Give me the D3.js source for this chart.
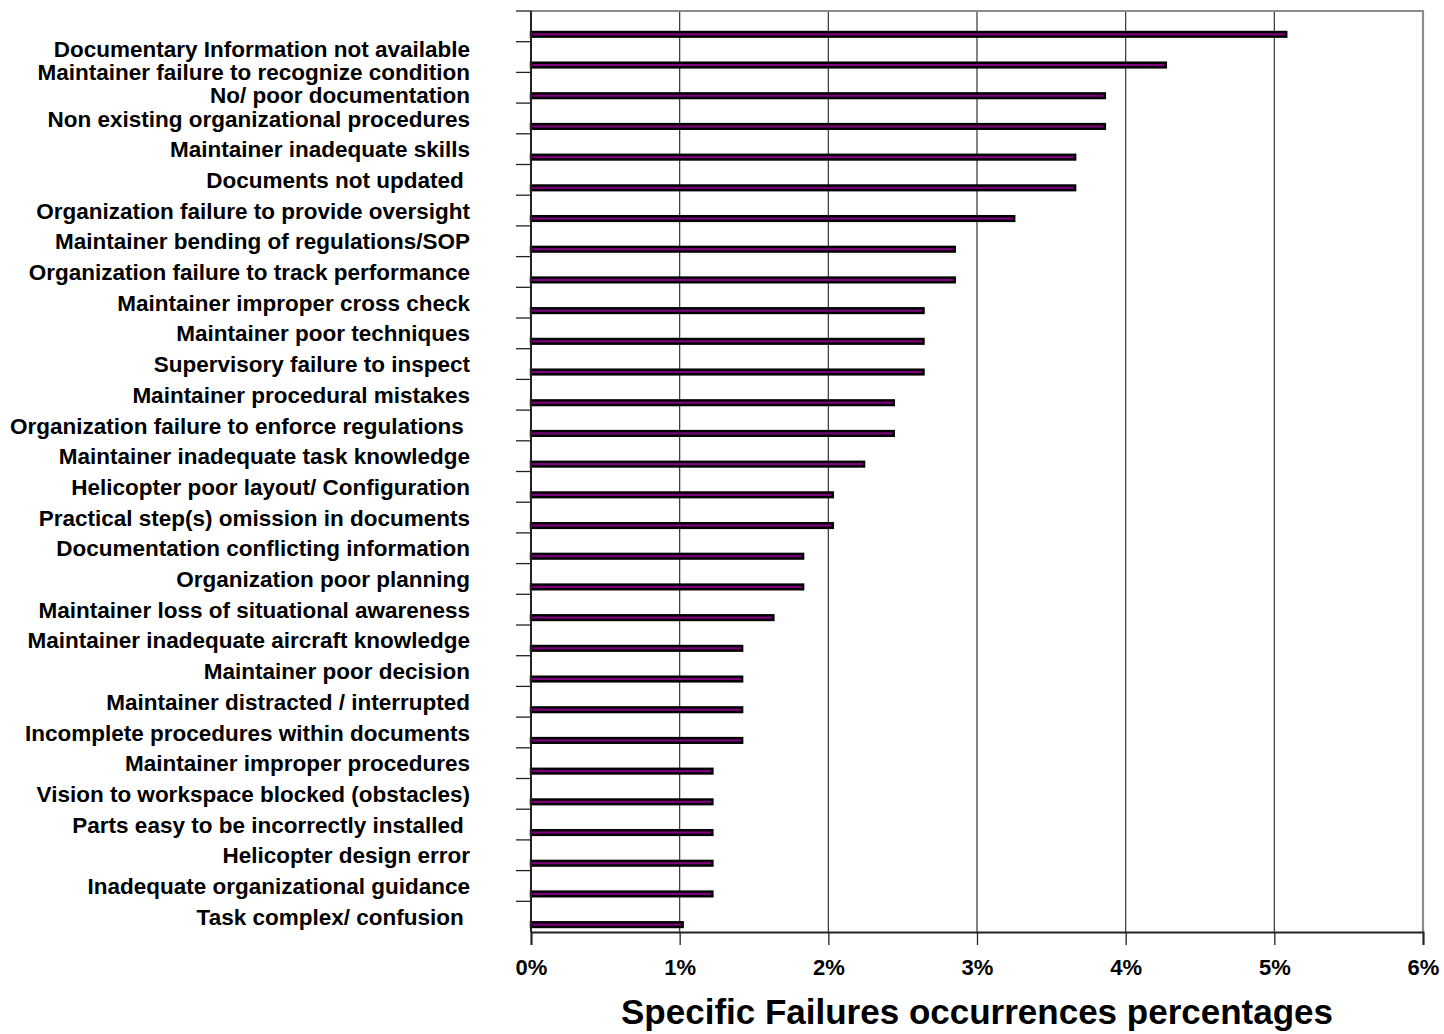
<!DOCTYPE html>
<html>
<head>
<meta charset="utf-8">
<script src="https://cdn.jsdelivr.net/npm/d3@7"></script>
<style>
  html, body { margin: 0; padding: 0; background: #fff; }
  svg { display: block; font-family: Arial, "Liberation Sans", sans-serif; }
  .cat { white-space: pre; }
</style>
</head>
<body>
<svg id="chart" width="1444" height="1034"></svg>
<script>
// Failure categories, top to bottom
const categories = [
  "Documentary Information not available",
  "Maintainer failure to recognize condition",
  "No/ poor documentation",
  "Non existing organizational procedures",
  "Maintainer inadequate skills",
  "Documents not updated ",
  "Organization failure to provide oversight",
  "Maintainer bending of regulations/SOP",
  "Organization failure to track performance",
  "Maintainer improper cross check",
  "Maintainer poor techniques",
  "Supervisory failure to inspect",
  "Maintainer procedural mistakes",
  "Organization failure to enforce regulations ",
  "Maintainer inadequate task knowledge",
  "Helicopter poor layout/ Configuration",
  "Practical step(s) omission in documents",
  "Documentation conflicting information",
  "Organization poor planning",
  "Maintainer loss of situational awareness",
  "Maintainer inadequate aircraft knowledge",
  "Maintainer poor decision",
  "Maintainer distracted / interrupted",
  "Incomplete procedures within documents",
  "Maintainer improper procedures",
  "Vision to workspace blocked (obstacles)",
  "Parts easy to be incorrectly installed ",
  "Helicopter design error",
  "Inadequate organizational guidance",
  "Task complex/ confusion "
];

// Occurrence share of each failure, in percent
const percentages = [
  5.08, 4.27, 3.86, 3.86, 3.66, 3.66, 3.25, 2.85, 2.85, 2.64,
  2.64, 2.64, 2.44, 2.44, 2.24, 2.03, 2.03, 1.83, 1.83, 1.63,
  1.42, 1.42, 1.42, 1.42, 1.22, 1.22, 1.22, 1.22, 1.22, 1.02
];

const xTicks = [0, 1, 2, 3, 4, 5, 6];
const xTickLabels = ["0%", "1%", "2%", "3%", "4%", "5%", "6%"];
const axisTitle = "Specific Failures occurrences percentages";

const data = categories.map((c, i) => ({ cat: c, value: percentages[i] }));

const svg = d3.select("#chart");
const plot = { left: 531, right: 1423, top: 11, bottom: 932 };

const x = d3.scaleLinear().domain([0, 6]).range([plot.left, plot.right]);
const y = d3.scaleBand().domain(categories).range([plot.top, plot.bottom]);
const bw = y.bandwidth();

// vertical gridlines
svg.append("g")
  .selectAll("line")
  .data(xTicks.filter(t => t > 0 && t < 6))
  .join("line")
  .attr("x1", d => x(d)).attr("x2", d => x(d))
  .attr("y1", plot.top).attr("y2", plot.bottom)
  .attr("stroke", "#333").attr("stroke-width", 1.2);

// plot frame: top and right edges
svg.append("path")
  .attr("d", `M${plot.left},${plot.top}H${plot.right}V${plot.bottom}`)
  .attr("fill", "none").attr("stroke", "#8c8c8c").attr("stroke-width", 2.2);

// bars
const barH = bw * 0.15;
svg.append("g")
  .selectAll("rect")
  .data(data)
  .join("rect")
  .attr("x", x(0))
  .attr("y", d => y(d.cat) + bw * 0.76 - barH / 2)
  .attr("width", d => x(d.value) - x(0))
  .attr("height", barH)
  .attr("fill", "#800080")
  .attr("stroke", "#000")
  .attr("stroke-width", 2.5);

// category axis with ticks on band boundaries
const yAxis = svg.append("g");
yAxis.append("line")
  .attr("x1", plot.left).attr("x2", plot.left)
  .attr("y1", plot.top).attr("y2", plot.bottom)
  .attr("stroke", "#222").attr("stroke-width", 2);
yAxis.selectAll("line.tk")
  .data(categories)
  .join("line").attr("class", "tk")
  .attr("x1", plot.left - 15).attr("x2", plot.left)
  .attr("y1", d => y(d)).attr("y2", d => y(d))
  .attr("stroke", "#222").attr("stroke-width", 1.3);

// category labels centred on their band; the top few are packed
// tighter above the fourth label
const labelStep = 23.3;
const labelY = (d, i) => {
  const base = y(categories[3]) + bw / 2;
  return i < 3 ? base - (3 - i) * labelStep : y(d) + bw / 2;
};
svg.append("g")
  .selectAll("text")
  .data(categories)
  .join("text")
  .attr("class", "cat")
  .attr("x", 470)
  .attr("y", (d, i) => labelY(d, i))
  .attr("dy", "0.36em")
  .attr("text-anchor", "end")
  .attr("font-size", 22.5)
  .attr("font-weight", "bold")
  .attr("fill", "#000")
  .text(d => d);

// value axis along the bottom
const xAxis = d3.axisBottom(x)
  .tickValues(xTicks)
  .tickFormat((d, i) => xTickLabels[i])
  .tickSize(13)
  .tickPadding(14);
const gx = svg.append("g")
  .attr("transform", `translate(0,${plot.bottom})`)
  .call(xAxis);
gx.select(".domain").attr("stroke", "#222").attr("stroke-width", 2);
gx.selectAll(".tick line").attr("stroke", "#222").attr("stroke-width", 1.3);
gx.selectAll(".tick text")
  .attr("font-size", 22)
  .attr("font-weight", "bold")
  .attr("font-family", "Arial, 'Liberation Sans', sans-serif")
  .attr("fill", "#000");

// axis title
svg.append("text")
  .attr("x", (plot.left + plot.right) / 2)
  .attr("y", 1024)
  .attr("text-anchor", "middle")
  .attr("font-size", 35)
  .attr("font-weight", "bold")
  .attr("fill", "#000")
  .text(axisTitle);
</script>
</body>
</html>
